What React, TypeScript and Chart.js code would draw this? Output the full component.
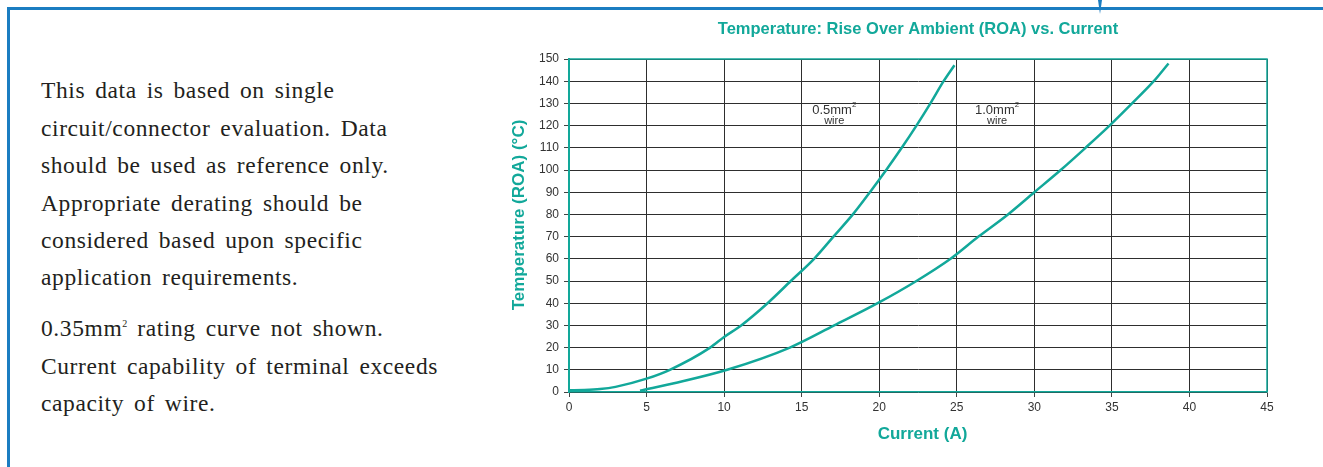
import React, { useEffect, useRef } from "react";
import { Chart, registerables } from "chart.js";

Chart.register(...registerables);

const chartTitle = "Temperature: Rise Over Ambient (ROA) vs. Current";
const xAxisTitle = "Current (A)";
const yAxisTitle = "Temperature (ROA) (°C)";

const wire05Current = [0, 1, 2, 3, 5, 6.5, 9.1, 10, 11.1, 12.8, 14.3, 15.8, 17.05, 18.3, 19.4, 20.45, 21.45, 22.4, 23.3, 24.15, 24.85];
const wire05Temp = [0.8, 0.9, 1.3, 2.3, 6, 10, 20, 24.8, 30, 40, 50, 60, 70, 80, 90, 100, 110, 120, 130, 140, 147.2];

const wire10Current = [4.58, 7, 10.2, 14.24, 17.1, 19.9, 22.4, 24.6, 26.4, 28.3, 30, 31.7, 33.3, 34.85, 36.3, 37.7, 38.65];
const wire10Temp = [0.6, 4.3, 10, 20, 30, 40, 50, 60, 70, 80, 90, 100, 110, 120, 130, 140, 148];

const curveLabels = [
  { text: "0.5mm", sup: "2", sub: "wire", x: 17.1, y: 127, subY: 122.3 },
  { text: "1.0mm", sup: "2", sub: "wire", x: 27.6, y: 127, subY: 122.3 },
];

const xMin = 0, xMax = 45, xStep = 5;
const yMin = 0, yMax = 150, yStep = 10;

const TEAL = "#12a89a";
const BLUE = "#1b7dc1";
const SANS = "'Liberation Sans', Arial, sans-serif";

const paragraph1 = [
  "This data is based on single",
  "circuit/connector evaluation. Data",
  "should be used as reference only.",
  "Appropriate derating should be",
  "considered based upon specific",
  "application requirements.",
];
const paragraph2Rest = [
  "Current capability of terminal exceeds",
  "capacity of wire.",
];

const extrasPlugin = {
  id: "extras",
  afterDraw(chart: any) {
    const { ctx, chartArea, scales } = chart;
    ctx.save();
    ctx.strokeStyle = TEAL;
    ctx.lineWidth = 1.5;
    ctx.beginPath();
    ctx.moveTo(chartArea.left, chartArea.top);
    ctx.lineTo(chartArea.right, chartArea.top);
    ctx.lineTo(chartArea.right, chartArea.bottom);
    ctx.stroke();

    // y-axis title
    ctx.save();
    ctx.fillStyle = TEAL;
    ctx.font = `bold 17px ${SANS}`;
    ctx.textAlign = "center";
    ctx.textBaseline = "middle";
    ctx.translate(scales.y.left + 14, (chartArea.top + chartArea.bottom) / 2 - 10.5);
    ctx.rotate(-Math.PI / 2);
    ctx.fillText(yAxisTitle, 0, 0);
    ctx.restore();

    // x-axis title
    ctx.fillStyle = TEAL;
    ctx.font = `bold 17px ${SANS}`;
    ctx.textAlign = "center";
    ctx.textBaseline = "middle";
    ctx.fillText(xAxisTitle, (chartArea.left + chartArea.right) / 2 + 4.5, scales.x.bottom - 18);

    ctx.fillStyle = "#333";
    ctx.textBaseline = "middle";
    for (const l of curveLabels) {
      const px = scales.x.getPixelForValue(l.x);
      const py = scales.y.getPixelForValue(l.y);
      const sy = scales.y.getPixelForValue(l.subY);
      ctx.font = `13px ${SANS}`;
      const w = ctx.measureText(l.text).width;
      ctx.font = `8px ${SANS}`;
      const ws = ctx.measureText(l.sup).width;
      const left = px - (w + ws) / 2;
      ctx.textAlign = "left";
      ctx.font = `13px ${SANS}`;
      ctx.fillText(l.text, left, py);
      ctx.font = `8px ${SANS}`;
      ctx.fillText(l.sup, left + w, py - 5);
      ctx.textAlign = "center";
      ctx.font = `11px ${SANS}`;
      ctx.fillText(l.sub, px, sy);
    }
    ctx.restore();
  },
};

function ChartCanvas() {
  const ref = useRef<HTMLCanvasElement | null>(null);
  useEffect(() => {
    if (!ref.current) return;
    const chart = new Chart(ref.current, {
      type: "scatter",
      data: {
        datasets: [
          {
            label: "0.5mm² wire",
            data: wire05Current.map((x, i) => ({ x, y: wire05Temp[i] })),
            showLine: true,
            borderColor: TEAL,
            borderWidth: 2.5,
            pointRadius: 0,
            cubicInterpolationMode: "monotone",
          },
          {
            label: "1.0mm² wire",
            data: wire10Current.map((x, i) => ({ x, y: wire10Temp[i] })),
            showLine: true,
            borderColor: TEAL,
            borderWidth: 2.5,
            pointRadius: 0,
            cubicInterpolationMode: "monotone",
          },
        ],
      },
      options: {
        animation: false,
        responsive: false,
        layout: { padding: { left: 25, right: 43, top: 15, bottom: 15 } },
        plugins: {
          legend: { display: false },
          tooltip: { enabled: false },
          title: {
            display: true,
            text: chartTitle,
            color: TEAL,
            fullSize: false,
            font: { family: SANS, size: 16.5, weight: "bold" },
            padding: { top: 4.5, bottom: 19.7 },
          },
        },
        scales: {
          x: {
            type: "linear",
            min: xMin,
            max: xMax,
            afterFit: (s: any) => { s.height = 60; },
            ticks: {
              stepSize: xStep,
              color: "#333",
              padding: 3,
              maxRotation: 0,
              font: { family: SANS, size: 12 },
            },
            grid: { color: "#2e2e2e", lineWidth: 1, tickLength: 5, tickColor: "#444" },
            border: { color: TEAL, width: 1.5 },
            title: { display: false },
          },
          y: {
            type: "linear",
            min: yMin,
            max: yMax,
            afterFit: (s: any) => { s.width = 64; },
            ticks: {
              stepSize: yStep,
              color: "#333",
              padding: 5,
              font: { family: SANS, size: 12 },
            },
            grid: { color: "#2e2e2e", lineWidth: 1, tickLength: 5, tickColor: "#444" },
            border: { color: TEAL, width: 2 },
            title: { display: false },
          },
        },
      } as any,
      plugins: [extrasPlugin],
    });
    return () => chart.destroy();
  }, []);
  return (
    <canvas
      ref={ref}
      width={830}
      height={467}
      style={{ position: "absolute", left: 480, top: 0, width: 830, height: 467 }}
    />
  );
}

export default function App() {
  const textStyle: React.CSSProperties = {
    fontFamily: "'Liberation Serif', 'Times New Roman', serif",
    fontSize: 23.5,
    lineHeight: "37.4px",
    color: "#231f20",
    letterSpacing: 0.6,
    wordSpacing: 3.5,
    whiteSpace: "nowrap",
  };
  return (
    <div style={{ position: "absolute", left: 0, top: 0, width: 1323, height: 467, overflow: "hidden", background: "#fff" }}>
      <div style={{ position: "absolute", left: 7, top: 7, width: 1316, height: 2.5, background: BLUE }} />
      <div style={{ position: "absolute", left: 7, top: 7, width: 2.5, height: 460, background: BLUE }} />
      <div
        style={{
          position: "absolute",
          left: 1097.5,
          top: 0,
          width: 0,
          height: 0,
          borderLeft: "2px solid transparent",
          borderRight: "2px solid transparent",
          borderTop: `14px solid ${BLUE}`,
        }}
      />
      <div style={{ position: "absolute", left: 41, top: 72.3, ...textStyle }}>
        {paragraph1.map((l, i) => (
          <div key={i}>{l}</div>
        ))}
        <div style={{ marginTop: 13.6 }}>
          0.35mm<sup style={{ fontSize: 10, lineHeight: 0, verticalAlign: 0, position: "relative", top: -9, letterSpacing: 0 }}>2</sup> rating curve not shown.
        </div>
        {paragraph2Rest.map((l, i) => (
          <div key={"b" + i}>{l}</div>
        ))}
      </div>
      <ChartCanvas />
    </div>
  );
}
